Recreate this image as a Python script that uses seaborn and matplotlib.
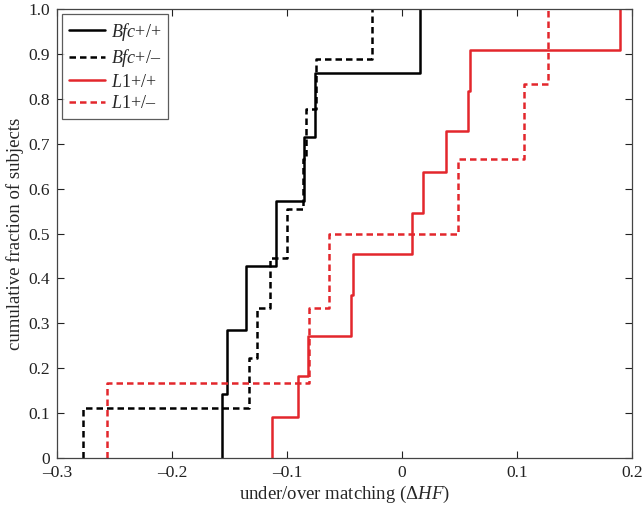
import seaborn as sns
import matplotlib.pyplot as plt
import numpy as np
import pandas as pd

# raw per-subject values (delta HF)
bfc_wt = [-0.1565, -0.1522, -0.1357, -0.1096, -0.0852, -0.0757, 0.0157]
bfc_het = [-0.2777, -0.1330, -0.1261, -0.1148, -0.1000, -0.0861, -0.0835,
           -0.0748, -0.0261]
l1_wt = [-0.1130, -0.0904, -0.0817, -0.0443, -0.0426, 0.0087, 0.0183,
         0.0383, 0.0574, 0.0591, 0.1896]
l1_het = [-0.2568, -0.0809, -0.0635, 0.0487, 0.1061, 0.1270]

labels = [r"$\mathit{Bfc}$+/+", r"$\mathit{Bfc}$+/–",
          r"$\mathit{L1}$+/+", r"$\mathit{L1}$+/–"]
xticks = [-0.3, -0.2, -0.1, 0.0, 0.1, 0.2]
xtick_labels = ["–0.3", "–0.2", "–0.1", "0", "0.1", "0.2"]
yticks = [0.0, 0.1, 0.2, 0.3, 0.4, 0.5, 0.6, 0.7, 0.8, 0.9, 1.0]
ytick_labels = ["0", "0.1", "0.2", "0.3", "0.4", "0.5", "0.6", "0.7",
                "0.8", "0.9", "1.0"]

DASH = (2.6, 1.6)


def ecdf_frame(values):
    v = np.sort(np.asarray(values))
    n = len(v)
    x = np.r_[v[0], v]
    y = np.r_[0.0, np.arange(1, n + 1) / n]
    return pd.DataFrame({"x": x, "y": y})


def main():
    sns.set_style("ticks")
    plt.rcParams["font.family"] = ["Liberation Serif", "DejaVu Serif"]
    plt.rcParams["mathtext.fontset"] = "custom"
    plt.rcParams["mathtext.rm"] = "Liberation Serif"
    plt.rcParams["mathtext.it"] = "Liberation Serif:italic"
    plt.rcParams["font.size"] = 12

    fig = plt.figure(figsize=(6.44, 5.08), dpi=100)
    ax = fig.add_axes([0.0885, 0.0984, 0.8929, 0.8838])

    red = "#e3262c"
    series = [(bfc_wt, "black", "-"), (bfc_het, "black", "--"),
              (l1_wt, red, "-"), (l1_het, red, "--")]
    for (vals, col, ls), lab in zip(series, labels):
        d = ecdf_frame(vals)
        sns.lineplot(data=d, x="x", y="y", ax=ax, sort=False, estimator=None,
                     drawstyle="steps-post", color=col, linewidth=1.8,
                     label=lab)
        ax.lines[-1].set_linestyle(ls)
        if ls == "--":
            ax.lines[-1].set_dashes(DASH)

    ax.set_xlim(-0.3, 0.2)
    ax.set_ylim(0, 1)
    ax.set_xticks(xticks)
    ax.set_xticklabels(xtick_labels)
    ax.set_yticks(yticks)
    ax.set_yticklabels(ytick_labels)
    ax.tick_params(direction="in", length=5, width=0.8, top=True, right=True,
                   labelsize=12.5, colors="#222222", pad=5)
    for s in ax.spines.values():
        s.set_visible(True)
        s.set_linewidth(0.9)
        s.set_color("#444444")
    ax.set_xlabel(r"under/over matching (Δ$\mathit{HF}$)", fontsize=13.5,
                  labelpad=2)
    ax.set_ylabel("cumulative fraction of subjects", fontsize=13.5,
                  labelpad=3)

    leg = ax.legend(loc="upper left", fontsize=13, frameon=True,
                    fancybox=False, edgecolor="#333333", borderaxespad=0.3,
                    handlelength=2.0, handletextpad=0.35,
                    labelspacing=0.25, borderpad=0.35)
    leg.get_frame().set_linewidth(0.9)
    for h in leg.get_lines():
        h.set_linewidth(1.8)
    leg.get_lines()[1].set_dashes(DASH)
    leg.get_lines()[3].set_dashes(DASH)

    fig.savefig("out.png", dpi=100)


if __name__ == "__main__":
    main()
